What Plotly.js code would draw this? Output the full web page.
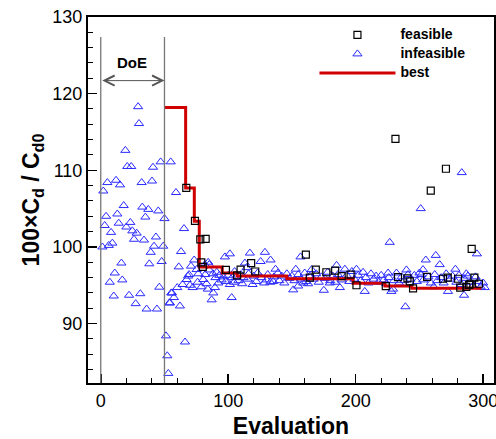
<!DOCTYPE html>
<html>
<head>
<meta charset="utf-8">
<script src="https://cdn.plot.ly/plotly-3.0.1.min.js"></script>
<style>html,body{margin:0;padding:0;background:#fff;}</style>
</head>
<body>
<div id="chart" style="width:496px;height:439px;"></div>
<script>
// Best-so-far (step line)
const bestX = [50, 66.6, 73.4, 77.3, 95.3, 107, 146, 198, 223, 244, 298.6];
const bestY = [118.2, 107.7, 103.35, 97.4, 96.6, 96.2, 95.85, 95.25, 94.9, 94.6, 94.6];

// Feasible evaluations
const feasX = [67.1, 73.9, 78.1, 82.3, 78.9, 80, 98.2, 107, 109.7, 118, 121.2, 160.9, 164, 168.7, 177, 183.9, 189, 196, 200.6, 223.6, 231.2, 233.2, 240.6, 242.4, 245, 256, 258.9, 268.5, 270.8, 272.2, 280.3, 282, 286.8, 288.9, 290, 291, 293.1, 296.7];
const feasY = [107.7, 103.4, 101.0, 101.05, 98.0, 97.4, 97.0, 96.3, 97.05, 97.9, 96.8, 99.0, 96.0, 97.05, 96.7, 96.9, 96.2, 96.4, 95.0, 94.9, 114.1, 96.05, 95.9, 95.5, 94.6, 96.1, 107.35, 95.85, 110.2, 96.0, 95.85, 94.7, 94.8, 95.05, 95.2, 99.75, 96.0, 95.2];

// Infeasible evaluations: design of experiments (first 50)
const doeX = [29.3, 30, 19.3, 20.8, 23.9, 41, 47, 2, 5.2, 12, 15.1, 32.1, 40.2, 18, 32.6, 37.3, 45.1, 4.2, 13, 35, 50, 3.1, 14.1, 23.2, 8.1, 20.1, 24.8, 28.2, 26.1, 33.9, 43.3, 1.3, 6.3, 9.1, 41.8, 49, 39.2, 16.2, 38.1, 47.8, 11, 16.9, 7.1, 45.9, 10.2, 22.2, 31, 27.4, 36, 44.1];
const doeY = [118.3, 116.1, 112.6, 110.5, 110.5, 110.4, 111.1, 107.3, 108.4, 108.7, 108.1, 108.4, 108.6, 105.4, 105.2, 104.9, 104.7, 104, 104.3, 103.9, 103.7, 102.8, 103.1, 103.2, 101.9, 102.6, 102.1, 101.8, 101, 100.9, 101.3, 100, 100.2, 100.5, 100.1, 100.1, 99.3, 97.9, 97.8, 98.1, 96.6, 95.7, 95.4, 94.75, 93.6, 93.7, 93.9, 92.6, 91.9, 91.9];

// Infeasible evaluations: optimisation phase
const optX = [54.9, 59, 65.3, 63, 61.2, 73.3, 70.8, 75.2, 76.5, 81.7, 85.1, 84.3, 85.1, 68.5, 67.4, 69.2, 80.4, 76, 97.4, 101.3, 117, 64.2, 60, 70, 72.1, 55.9, 57.4, 54.3, 62.1, 89.6, 88.3, 87, 92.2, 94.8, 102.7, 101.3, 104.5, 119.1, 51.2, 66.1, 52.2, 53, 53.8, 55.3,
  128.8, 125.4, 133.2, 137.1, 113.1, 114.4, 128.2, 135.3, 156.7, 153, 165.4, 185, 191.5, 200.6, 205.8, 151, 154.9, 158.8, 162.7, 175, 179.7, 187.6, 207.1, 226.7, 251, 283.2, 262.8, 255, 265.9, 295.1, 278.2, 286.8, 239.8, 252.8, 251.5, 228, 229.3, 239, 272.4, 285, 261.2, 301.2, 225.4,
  82, 83, 79, 84, 88, 90, 91, 93, 96, 98, 100, 103, 105,
  106, 108, 110, 111, 112, 115, 116, 120, 122, 123, 126, 130, 131, 133, 136, 139, 140, 142, 144, 146, 148, 150, 152, 155, 157, 160, 161, 164, 167, 169, 171, 173, 176, 178, 180, 182, 184, 186, 189, 193, 195, 197, 199, 202, 204, 208, 210, 212, 214, 216, 218, 220, 222, 224, 226, 230, 232, 234, 236, 238, 241, 243, 246, 248, 250, 253, 257, 259, 262, 264, 267, 269, 271, 274, 276, 279, 281, 283, 285, 288, 290, 292, 294, 296, 298, 300];
const optY = [111.1, 107.1, 102.4, 99.4, 97.4, 98.3, 97.5, 97.05, 96.5, 97.7, 97.7, 98.0, 97.0, 96.2, 95.75, 96.4, 95.75, 95.4, 98.7, 99.1, 99.2, 95.1, 94.7, 95.0, 94.7, 94.0, 93.4, 92.7, 92.3, 94.7, 94.0, 93.1, 95.3, 95.7, 93.4, 95.1, 95.4, 95.1, 88.4, 87.6, 85.8, 83.5, 92.7, 94.0,
  99.3, 98.1, 98.3, 97.1, 97.9, 97.3, 95.3, 95.5, 98.7, 97.1, 97.05, 97.6, 97.1, 97.1, 96.7, 94.4, 94.9, 95.3, 95.2, 94.35, 95.3, 94.7, 94.2, 100.6, 105.0, 109.7, 98.9, 98.3, 97.7, 99.1, 97.1, 96.5, 97.0, 97.05, 96.4, 94.2, 94.5, 92.2, 94.2, 93.7, 94.8, 94.7, 96.6,
  96.4, 95.2, 94.8, 94.5, 96.5, 96.0, 96.7, 96.3, 96.1, 95.5, 96.3, 96.0, 96.8,
  96.0, 95.6, 96.4, 95.2, 96.0, 95.8, 96.5, 96.2, 95.5, 96.6, 96.0, 95.7, 96.4, 95.4, 96.1, 96.6, 95.6, 96.2, 95.3, 96.5, 95.9, 96.2, 95.6, 96.4, 95.8, 96.6, 95.5, 96.2, 95.8, 96.5, 95.4, 96.1, 95.9, 96.7, 95.6, 96.2, 95.4, 96.4, 95.7, 96.3, 95.5, 96.8, 95.8, 96.3, 95.6, 96.0, 95.3, 96.5, 95.8, 96.2, 95.4, 96.3, 95.7, 95.2, 96.0, 95.6, 96.6, 95.3, 96.1, 95.6, 96.4, 95.8, 96.3, 95.5, 96.6, 95.7, 96.1, 95.3, 96.4, 95.6, 96.0, 95.3, 96.5, 95.8, 96.2, 95.4, 96.3, 95.1, 95.9, 96.2, 95.4, 94.9, 96.1, 95.5, 94.8, 95.3];

const infX = doeX.concat(optX);
const infY = doeY.concat(optY);

const xTicks = [0, 100, 200, 300];
const yTicks = [90, 100, 110, 120, 130];

const FONT = 'Liberation Sans, Arial, Helvetica, sans-serif';
const legName = s => '<span style="font-size:14px">' + s + '</span>';

const traces = [
  {x: infX, y: infY, type: 'scatter', mode: 'markers', name: legName('infeasible'), legendrank: 2,
   marker: {symbol: 'triangle-up-open', size: 8, color: '#2a2aff', line: {width: 1, color: '#2a2aff'}}},
  {x: bestX, y: bestY, type: 'scatter', mode: 'lines', name: legName('best'), legendrank: 3,
   line: {shape: 'hv', color: '#d00000', width: 3}},
  {x: feasX, y: feasY, type: 'scatter', mode: 'markers', name: legName('feasible'), legendrank: 1,
   marker: {symbol: 'square-open', size: 7, color: '#000', line: {width: 1.2, color: '#000'}}}
];

const axisCommon = {
  ticks: 'inside', ticklen: 9, tickwidth: 1.5, tickcolor: '#000',
  showline: true, linewidth: 2, linecolor: '#000', mirror: true,
  showgrid: false, zeroline: false, ticklabeloverflow: 'allow',
  tickfont: {size: 18, family: FONT, color: '#000'}
};

const layout = {
  width: 496, height: 439,
  margin: {l: 88, r: 2, t: 17, b: 56},
  paper_bgcolor: '#fff', plot_bgcolor: '#fff',
  font: {family: FONT, color: '#000'},
  showlegend: true,
  legend: {x: 0.942, y: 0.9907, xanchor: 'right', yanchor: 'top', bgcolor: 'rgba(0,0,0,0)',
           font: {size: 11, family: FONT, weight: 'bold'}, itemwidth: 76, tracegroupgap: 0},
  xaxis: Object.assign({}, axisCommon, {
    range: [-10, 308.5], tickvals: xTicks, ticktext: xTicks.map(String),
    minor: {dtick: 20, tick0: 0, ticks: 'inside', ticklen: 5, tickwidth: 1, tickcolor: '#000', showgrid: false},
    title: {text: 'Evaluation', font: {size: 23, family: FONT, weight: 'bold'}, standoff: 8}
  }),
  yaxis: Object.assign({}, axisCommon, {
    range: [82.25, 130], tickvals: yTicks, ticktext: yTicks.map(String),
    minor: {dtick: 2, tick0: 0, ticks: 'inside', ticklen: 5, tickwidth: 1, tickcolor: '#000', showgrid: false},
    title: {text: '100×C<sub>d</sub> / C<sub>d0</sub>', font: {size: 23, family: FONT, weight: 'bold'}, standoff: 6}
  }),
  shapes: [
    {type: 'line', xref: 'x', yref: 'y', x0: 0, x1: 0, y0: 127.4, y1: 82.25, line: {color: '#777', width: 1.3}},
    {type: 'line', xref: 'x', yref: 'y', x0: 50, x1: 50, y0: 127.4, y1: 82.25, line: {color: '#777', width: 1.3}}
  ],
  annotations: [
    {xref: 'x', yref: 'y', axref: 'x', ayref: 'y', x: 50, y: 121.7, ax: 0, ay: 121.7, text: '',
     showarrow: true, arrowhead: 5, startarrowhead: 5, arrowside: 'end+start', arrowsize: 2, startarrowsize: 2,
     arrowwidth: 1, arrowcolor: '#555'},
    {xref: 'x', yref: 'y', x: 24.5, y: 124.1, text: '<b>DoE</b>', showarrow: false,
     font: {size: 15, family: FONT, color: '#000'}}
  ]
};

Plotly.newPlot('chart', traces, layout, {displayModeBar: false, staticPlot: true});
</script>
</body>
</html>
